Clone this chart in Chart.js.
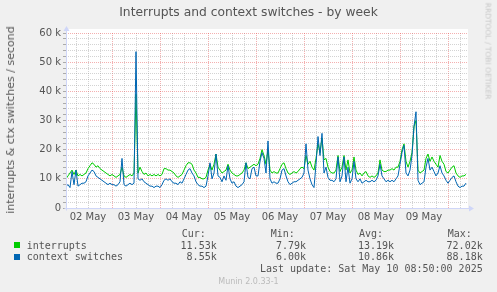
<!DOCTYPE html>
<html><head><meta charset="utf-8">
<script src="https://cdn.jsdelivr.net/npm/chart.js@4.4.1/dist/chart.umd.min.js"></script>
<style>
html,body{margin:0;padding:0;background:#F0F0F0;width:497px;height:292px;overflow:hidden;}
#wrap{position:relative;width:497px;height:292px;}
canvas{position:absolute;left:0;top:0;}
.t{position:absolute;white-space:pre;font-family:"DejaVu Sans";color:#666;}
.m{position:absolute;white-space:pre;font-family:"DejaVu Sans Mono";font-size:10px;color:#555;line-height:12px;}
.sq{position:absolute;width:6px;height:6px;}
</style></head>
<body><div id="wrap">
<canvas id="c" width="497" height="292"></canvas>
<div class="t" style="left:0;width:497px;text-align:center;top:5px;font-size:12.3px;line-height:15px;color:#555;">Interrupts and context switches - by week</div>
<div class="t" style="left:10.5px;top:119.5px;font-size:11px;line-height:12px;color:#555;transform:translate(-50%,-50%) rotate(-90deg);">interrupts &amp; ctx switches / second</div>
<div class="t" style="left:488px;top:51px;font-size:7.5px;line-height:9px;color:#c8c8c8;transform:translate(-50%,-50%) rotate(90deg);">RRDTOOL / TOBI OETIKER</div>

<div class="m" style="left:181.7px;top:228px;">Cur:</div>
<div class="m" style="left:270.7px;top:228px;">Min:</div>
<div class="m" style="left:359px;top:228px;">Avg:</div>
<div class="m" style="left:447.7px;top:228px;">Max:</div>

<div class="sq" style="left:14px;top:242px;background:#00CC00;"></div>
<div class="m" style="left:26.7px;top:239.7px;">interrupts</div>
<div class="m" style="right:280.3px;top:239.7px;text-align:right;">11.53k</div>
<div class="m" style="right:191px;top:239.7px;text-align:right;">7.79k</div>
<div class="m" style="right:103px;top:239.7px;text-align:right;">13.19k</div>
<div class="m" style="right:14.3px;top:239.7px;text-align:right;">72.02k</div>

<div class="sq" style="left:14px;top:254px;background:#0066B3;"></div>
<div class="m" style="left:26.7px;top:251.3px;">context switches</div>
<div class="m" style="right:280.3px;top:251.3px;text-align:right;">8.55k</div>
<div class="m" style="right:191px;top:251.3px;text-align:right;">6.00k</div>
<div class="m" style="right:103px;top:251.3px;text-align:right;">10.86k</div>
<div class="m" style="right:14.3px;top:251.3px;text-align:right;">88.18k</div>

<div class="m" style="right:14.3px;top:263.3px;text-align:right;">Last update: Sat May 10 08:50:00 2025</div>
<div class="t" style="left:0;width:497px;text-align:center;top:276.7px;font-size:8px;line-height:10px;color:#bbb;">Munin 2.0.33-1</div>
</div>
<script>
// Day labels (tick labels at noon of each day)
const dayLabels = ['02 May','03 May','04 May','05 May','06 May','07 May','08 May','09 May'];
// Hourly samples, in thousands per second, starting May 2 01:00 (hour 1)
const interruptsK = [
  // May 2
  10, 11, 12, 13, 11.5, 13, 11, 11.5, 11, 11.5, 12, 13.5, 14.5, 15.5, 15, 14, 14.5, 13.5, 13, 12.5, 12, 11.5, 11, 11.5,
  // May 3
  11, 10.5, 11, 11.5, 14, 11, 10.5, 11, 11.5, 11, 12, 39, 12, 14, 12.5, 11.5, 12, 11, 11.5, 11, 11.5, 11, 11.5, 11,
  // May 4
  11.5, 13.5, 13.5, 13, 13, 12.5, 12, 11, 10.5, 11, 11.5, 13, 14.5, 15.5, 15.5, 15, 13, 12, 10.5, 10.5, 10, 10, 10.5, 13,
  // May 5
  15, 13, 15, 18.5, 14, 13, 12, 12.5, 13, 15, 13, 12, 11.5, 11, 11, 11.5, 12, 13, 15.5, 13.5, 14, 14.5, 15, 14.5,
  // May 6
  15, 17, 20, 18, 15, 20, 13, 12, 12.5, 12, 12, 13.5, 15, 15.5, 13.5, 12, 11.5, 12, 12.5, 12, 12.5, 13.5, 14, 13.5,
  // May 7
  18, 15, 16, 14, 13, 17, 22, 19, 24, 16.5, 17, 14, 12.5, 12, 12, 13, 18, 12.5, 14, 18, 13, 16.5, 12, 13,
  // May 8
  17.5, 13, 11.5, 12, 11, 12, 12.5, 11, 10.5, 11, 10.5, 11, 12, 16.5, 13, 12.5, 12.5, 13, 13, 13.5, 13, 14, 14, 16,
  // May 9
  20, 22, 16, 14, 16, 19, 28, 30, 13, 12, 12.5, 13, 17, 18.5, 16, 17.5, 16, 15, 14, 18, 16, 15, 12.5, 12,
  // May 10
  13, 14, 14.5, 12, 11, 10.5, 11, 11, 11.53
];
const contextSwitchesK = [
  // May 2
  7.5, 8, 7, 12.5, 8, 13, 7.5, 8, 8.5, 8.5, 9, 11, 12, 13, 12.5, 11, 10.5, 10, 9.5, 9, 8.5, 8, 8.5, 8,
  // May 3
  8, 7.5, 8, 9, 17, 8, 7.5, 8, 8.5, 8, 8.5, 53.6, 10, 9.5, 10, 9, 8.5, 8, 7.5, 7.5, 7, 7.5, 7.5, 7,
  // May 4
  8, 9.5, 10, 9.5, 10, 9, 8.5, 8.5, 8, 9, 8.5, 10, 11.5, 13, 13.5, 12, 11, 9, 8, 7.5, 7.5, 7, 7.5, 11,
  // May 5
  15.5, 10, 12, 18.5, 11, 10.5, 9, 11, 9.5, 14.5, 10, 8.5, 9, 7.5, 7, 7.5, 8, 9, 15.5, 10.5, 10, 13.5, 14, 11,
  // May 6
  11, 16, 19, 17, 12, 23, 10, 8.5, 9, 8.5, 8.5, 10, 13, 13.5, 11, 9, 8, 8.5, 9, 9, 9.5, 10, 10.5, 12,
  // May 7
  22, 13, 10, 8, 7, 15, 24.5, 18, 25.6, 12, 14, 10.5, 9.5, 9.5, 9, 10, 17.5, 9, 11, 17.5, 9, 14, 8.5, 10,
  // May 8
  16, 10, 9, 10, 8.5, 9, 9.5, 9, 9, 9.5, 9, 9.5, 11, 15, 11, 10, 9, 9.5, 9, 9.5, 9, 10, 11, 15,
  // May 9
  19, 21.5, 12, 11, 13, 18, 28, 33, 9.5, 8, 8.5, 9, 14, 17, 13, 14, 12.5, 11, 12, 14.5, 12, 11, 9.5, 8.5,
  // May 10
  9.5, 10.5, 11, 9, 7.5, 7, 7.5, 7.5, 8.55
];
const hourIndex = interruptsK.map((_, i) => i + 1); // hours since May 2 00:00

const minorGrid = 'rgba(150,150,150,0.42)';
const majorGrid = 'rgba(230,80,80,0.45)';
const axisColor = '#CFD6F8';

const bgPlugin = {
  id: 'bg',
  beforeDraw(chart) {
    const {ctx, chartArea: a} = chart;
    ctx.save();
    ctx.fillStyle = '#F0F0F0';
    ctx.fillRect(0, 0, chart.width, chart.height);
    ctx.fillStyle = '#FFFFFF';
    ctx.fillRect(a.left, a.top - 4, a.right - a.left, a.bottom - a.top + 4);
    ctx.restore();
  },
  afterDraw(chart) {
    const {ctx, chartArea: a} = chart;
    ctx.save();
    ctx.strokeStyle = axisColor; ctx.fillStyle = axisColor; ctx.lineWidth = 1;
    const x0 = Math.round(a.left) + 0.5, y0 = Math.round(a.bottom) + 0.5;
    ctx.beginPath();
    ctx.moveTo(x0, y0 + 2); ctx.lineTo(x0, a.top - 3);
    ctx.moveTo(x0 - 2, y0); ctx.lineTo(a.right + 2, y0);
    ctx.stroke();
    ctx.beginPath();
    ctx.moveTo(x0 - 3, a.top - 2); ctx.lineTo(x0 + 3, a.top - 2); ctx.lineTo(x0, a.top - 7); ctx.closePath();
    ctx.moveTo(a.right + 1, y0 - 3); ctx.lineTo(a.right + 1, y0 + 3); ctx.lineTo(a.right + 6, y0); ctx.closePath();
    ctx.fill();
    ctx.restore();
  }
};

new Chart(document.getElementById('c'), {
  type: 'line',
  data: {
    datasets: [
      { label: 'interrupts', data: hourIndex.map((h, i) => ({x: h, y: interruptsK[i]})),
        borderColor: '#00CC00', borderWidth: 1, pointRadius: 0, tension: 0, order: 1 },
      { label: 'context switches', data: hourIndex.map((h, i) => ({x: h, y: contextSwitchesK[i]})),
        borderColor: '#0066B3', borderWidth: 1, pointRadius: 0, tension: 0, order: 0 }
    ]
  },
  options: {
    responsive: false, animation: false, devicePixelRatio: 1,
    layout: { padding: { left: 30, top: 33, right: 29, bottom: 64 } },
    plugins: { legend: { display: false }, tooltip: { enabled: false }, title: { display: false } },
    scales: {
      x: {
        type: 'linear', min: 1, max: 202,
        afterBuildTicks: s => { const t = []; for (let v = 6; v <= 198; v += 6) t.push({value: v}); s.ticks = t; },
        afterFit: s => { s.height = 20; },
        ticks: { autoSkip: false, maxRotation: 0, padding: 3, color: '#555',
          font: { family: 'DejaVu Sans', size: 10 },
          callback: v => (v % 24 === 12 ? dayLabels[(v - 12) / 24] : '') },
        grid: { drawTicks: false, lineWidth: 1,
          color: c => (c.tick && c.tick.value % 24 === 0 ? majorGrid : minorGrid) },
        border: { display: false, dash: [1, 1] }
      },
      y: {
        min: 0, max: 60,
        afterBuildTicks: s => { const t = []; for (let v = 0; v <= 60; v += 2) t.push({value: v}); s.ticks = t; },
        afterFit: s => { s.width = 36; },
        ticks: { autoSkip: false, padding: 2, color: '#555',
          font: { family: 'DejaVu Sans', size: 10 },
          callback: v => (v % 10 === 0 ? (v === 0 ? '0' : v + ' k') : '') },
        grid: { tickLength: 3, tickColor: '#aaa', lineWidth: 1,
          color: c => (c.tick && c.tick.value % 10 === 0 ? majorGrid : minorGrid) },
        border: { display: false, dash: [1, 1] }
      }
    }
  },
  plugins: [bgPlugin]
});
</script>
</body></html>
